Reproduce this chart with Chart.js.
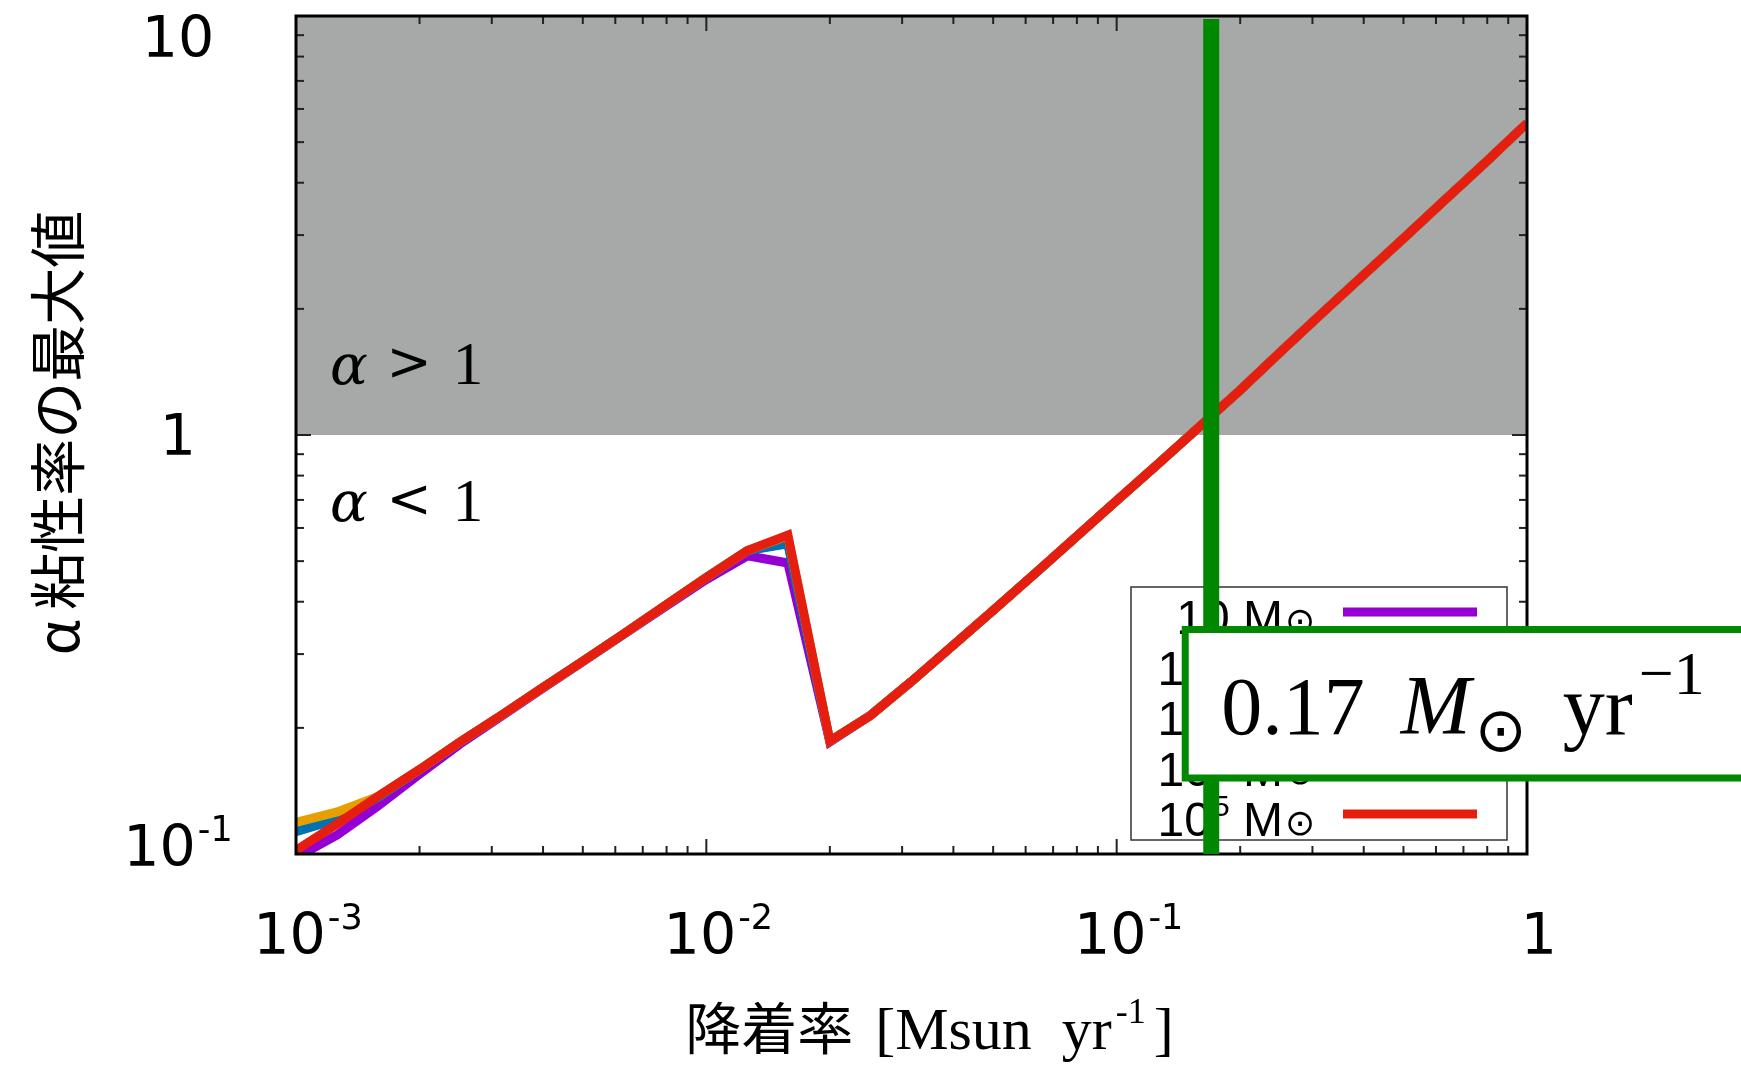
<!DOCTYPE html>
<html>
<head>
<meta charset="utf-8">
<script src="https://cdn.jsdelivr.net/npm/chart.js@4.4.0/dist/chart.umd.min.js"></script>
<style>
  html, body { margin: 0; padding: 0; background: #fff; }
  canvas { display: block; }
</style>
</head>
<body>
<canvas id="alphaChart" width="1741" height="1066"></canvas>
<script>
// accretion rate [Msun/yr], 10 samples per decade
const accretionRates = [0.001, 0.00126, 0.00158, 0.002, 0.00251, 0.00316, 0.00398, 0.00501, 0.00631, 0.00794,
    0.01, 0.0126, 0.0158, 0.02, 0.0251, 0.0316, 0.0398, 0.0501, 0.0631, 0.0794,
    0.1, 0.126, 0.158, 0.2, 0.251, 0.316, 0.398, 0.501, 0.631, 0.794, 1]

// maximum alpha viscosity for each stellar mass
const alphaMax10 = [0.098, 0.111, 0.130, 0.155, 0.183, 0.213, 0.248, 0.288, 0.335, 0.389,
    0.452, 0.515, 0.495, 0.185, 0.214, 0.258, 0.314, 0.382, 0.466, 0.570,
    0.697, 0.852, 1.04, 1.28, 1.58, 1.95, 2.40, 2.95, 3.64, 4.48, 5.55]
const alphaMax1e2 = [0.116, 0.123, 0.137, 0.159, 0.185, 0.214, 0.249, 0.289, 0.336, 0.392,
    0.457, 0.530, 0.553, 0.186, 0.214, 0.258, 0.314, 0.382, 0.466, 0.570,
    0.697, 0.852, 1.04, 1.28, 1.58, 1.95, 2.40, 2.95, 3.64, 4.48, 5.55]
const alphaMax1e3 = [0.113, 0.121, 0.136, 0.159, 0.185, 0.214, 0.249, 0.289, 0.336, 0.392,
    0.457, 0.530, 0.550, 0.186, 0.214, 0.258, 0.314, 0.382, 0.466, 0.570,
    0.697, 0.852, 1.04, 1.28, 1.58, 1.95, 2.40, 2.95, 3.64, 4.48, 5.55]
const alphaMax1e4 = [0.119, 0.126, 0.137, 0.159, 0.185, 0.214, 0.249, 0.289, 0.336, 0.392,
    0.457, 0.530, 0.575, 0.186, 0.214, 0.258, 0.314, 0.382, 0.466, 0.570,
    0.697, 0.852, 1.04, 1.28, 1.58, 1.95, 2.40, 2.95, 3.64, 4.48, 5.55]
const alphaMax1e5 = [0.102, 0.118, 0.137, 0.159, 0.185, 0.214, 0.249, 0.289, 0.336, 0.392,
    0.457, 0.530, 0.577, 0.186, 0.214, 0.258, 0.314, 0.382, 0.466, 0.570,
    0.697, 0.852, 1.04, 1.28, 1.58, 1.95, 2.40, 2.95, 3.64, 4.48, 5.55]

const massExponents = [1, 2, 3, 4, 5]
const seriesValues = [alphaMax10, alphaMax1e2, alphaMax1e3, alphaMax1e4, alphaMax1e5]
const seriesColors = ['#9400d3', '#009e73', '#0072b2', '#e69f00', '#e51e10']

const xTickValues = [0.001, 0.01, 0.1, 1]
const xTickLabels = [['10', '-3'], ['10', '-2'], ['10', '-1'], ['1', '']]
const yTickValues = [0.1, 1, 10]
const yTickLabels = [['10', '-1'], ['1', ''], ['10', '']]

const alphaLimit = 1
const boundaryRate = 0.17
const xTitle = ['降着率', '[Msun  yr', '-1', ']']
const yTitle = ['α', '粘性率の最大値']

function strokeLine(ctx, x1, y1, x2, y2) {
    ctx.beginPath();
    ctx.moveTo(x1, y1);
    ctx.lineTo(x2, y2);
    ctx.stroke();
}

function logTicks(min, max) {
    const out = [];
    for (let e = Math.floor(Math.log10(min)); e <= Math.ceil(Math.log10(max)); e++) {
        for (let m = 1; m <= 9; m++) {
            const v = m * Math.pow(10, e);
            if (v >= min * 0.999 && v <= max * 1.001) out.push({ v, major: m === 1 });
        }
    }
    return out;
}

// draws a glyph so that its ink is centred on (cx, cy)
function fillCentered(ctx, text, cx, cy) {
    const m = ctx.measureText(text);
    ctx.fillText(text, cx - (m.actualBoundingBoxRight - m.actualBoundingBoxLeft) / 2,
        cy + (m.actualBoundingBoxAscent - m.actualBoundingBoxDescent) / 2);
}

function drawPower(ctx, base, exp, cx, baseline, size) {
    const baseFont = `${size}px "DejaVu Sans"`;
    const supFont = `${Math.round(size * 0.62)}px "DejaVu Sans"`;
    ctx.font = baseFont;
    const wb = ctx.measureText(base).width;
    ctx.font = supFont;
    const we = exp ? ctx.measureText(exp).width + 2 : 0;
    const left = cx - (wb + we) / 2;
    ctx.font = baseFont;
    ctx.fillText(base, left, baseline);
    if (exp) {
        ctx.font = supFont;
        ctx.fillText(exp, left + wb + 2, baseline - size * 0.43);
    }
}

function drawFrame(ctx, area, x, y) {
    ctx.strokeStyle = '#222';
    ctx.lineWidth = 2;
    logTicks(x.min, x.max).forEach(t => {
        const px = x.getPixelForValue(t.v);
        const len = t.major ? 15 : 8;
        strokeLine(ctx, px, area.bottom, px, area.bottom - len);
        strokeLine(ctx, px, area.top, px, area.top + len);
    });
    logTicks(y.min, y.max).forEach(t => {
        const py = y.getPixelForValue(t.v);
        const len = t.major ? 15 : 8;
        strokeLine(ctx, area.left, py, area.left + len, py);
        strokeLine(ctx, area.right, py, area.right - len, py);
    });
    ctx.strokeStyle = '#000';
    ctx.lineWidth = 3;
    ctx.strokeRect(area.left, area.top, area.right - area.left, area.bottom - area.top);
}

function drawTickLabels(ctx, area, x, y) {
    ctx.fillStyle = '#000';
    ctx.textAlign = 'left';
    ctx.textBaseline = 'alphabetic';
    xTickValues.forEach((v, i) => {
        drawPower(ctx, xTickLabels[i][0], xTickLabels[i][1], x.getPixelForValue(v) + 12, area.bottom + 100, 57);
    });
    yTickValues.forEach((v, i) => {
        const cy = Math.min(Math.max(y.getPixelForValue(v), area.top + 21), area.bottom - 8);
        drawPower(ctx, yTickLabels[i][0], yTickLabels[i][1], area.left - 118, cy + 20, 57);
    });
}

function drawRegionLabel(ctx, relation, left, baseline) {
    ctx.fillStyle = '#000';
    ctx.textBaseline = 'alphabetic';
    ctx.textAlign = 'left';
    ctx.font = 'italic 56px "DejaVu Serif"';
    ctx.fillText('α', left, baseline);
    ctx.font = '54px "DejaVu Serif"';
    fillCentered(ctx, relation, left + 79, baseline - 21);
    ctx.font = '61px "Liberation Serif"';
    ctx.textAlign = 'center';
    ctx.fillText('1', left + 138, baseline);
    ctx.textAlign = 'left';
}

function drawAxisTitles(ctx, area) {
    ctx.fillStyle = '#000';
    // y title, rotated
    ctx.save();
    ctx.translate(57, (area.top + area.bottom) / 2 - 2);
    ctx.rotate(-Math.PI / 2);
    ctx.font = '57px "Noto Sans CJK JP"';
    ctx.textBaseline = 'middle';
    ctx.textAlign = 'left';
    const wa = ctx.measureText(yTitle[0]).width;
    const wt = ctx.measureText(yTitle[1]).width;
    const gap = 10;
    const start = -(wa + gap + wt) / 2;
    ctx.fillText(yTitle[0], start, 0);
    ctx.fillText(yTitle[1], start + wa + gap, 0);
    ctx.restore();

    // x title: CJK part, serif unit with superscript
    ctx.textAlign = 'left';
    ctx.textBaseline = 'alphabetic';
    const baseline = area.bottom + 195;
    const cjkFont = '56px "Noto Sans CJK JP"';
    const serifFont = '60px "Liberation Serif"';
    const supFont = '36px "Liberation Serif"';
    ctx.font = cjkFont;
    const w0 = ctx.measureText(xTitle[0]).width;
    ctx.font = serifFont;
    const w1 = ctx.measureText(xTitle[1]).width;
    const w3 = ctx.measureText(xTitle[3]).width;
    ctx.font = supFont;
    const w2 = ctx.measureText(xTitle[2]).width;
    const gap2 = 22;
    let px = (area.left + area.right) / 2 + 18 - (w0 + gap2 + w1 + 4 + w2 + 8 + w3) / 2;
    ctx.font = cjkFont;
    ctx.fillText(xTitle[0], px, baseline);
    px += w0 + gap2;
    ctx.font = serifFont;
    ctx.fillText(xTitle[1], px, baseline);
    px += w1 + 4;
    ctx.font = supFont;
    ctx.fillText(xTitle[2], px, baseline - 26);
    px += w2 + 8;
    ctx.font = serifFont;
    ctx.fillText(xTitle[3], px, baseline);
}

function drawMassLabel(ctx, exp, right, baseline) {
    const mainFont = '48px "Liberation Sans"';
    const supFont = '30px "Liberation Sans"';
    const sunFont = '36px "DejaVu Sans"';
    const supText = exp > 1 ? String(exp) : '';
    ctx.font = mainFont;
    const wBase = ctx.measureText('10').width;
    const wM = ctx.measureText(' M').width;
    ctx.font = supFont;
    const wSup = supText ? ctx.measureText(supText).width + 2 : 0;
    ctx.font = sunFont;
    const sun = ctx.measureText('⊙');
    const wSun = sun.actualBoundingBoxLeft + sun.actualBoundingBoxRight;
    let px = right - (wBase + wSup + wM + 5 + wSun);
    ctx.textAlign = 'left';
    ctx.font = mainFont;
    ctx.fillText('10', px, baseline);
    px += wBase;
    if (supText) {
        ctx.font = supFont;
        ctx.fillText(supText, px + 2, baseline - 20);
        px += wSup;
    }
    ctx.font = mainFont;
    ctx.fillText(' M', px, baseline);
    px += wM + 5;
    ctx.font = sunFont;
    fillCentered(ctx, '⊙', px + wSun / 2, baseline - 13);
}

function drawLegend(ctx, area, chart) {
    const right = area.right - 20;
    const bottom = area.bottom - 14;
    const left = right - 376;
    const top = bottom - 253;
    ctx.strokeStyle = '#333';
    ctx.lineWidth = 1.5;
    ctx.strokeRect(left, top, right - left, bottom - top);
    ctx.fillStyle = '#000';
    ctx.textBaseline = 'alphabetic';
    chart.data.datasets.forEach((ds, i) => {
        const rowY = top + 25 + i * 50.5;
        ctx.strokeStyle = ds.borderColor;
        ctx.lineWidth = 9;
        strokeLine(ctx, left + 212, rowY, left + 346, rowY);
        drawMassLabel(ctx, massExponents[i], left + 181, rowY + 22);
    });
}

function drawBoundary(ctx, area, x, chart) {
    const lineX = x.getPixelForValue(boundaryRate);
    ctx.strokeStyle = '#008800';
    ctx.lineWidth = 16;
    strokeLine(ctx, lineX, area.top + 3, lineX, area.bottom);

    const bx = lineX - 26;
    const by = area.bottom - 224.5;
    const bh = 148.5;
    ctx.fillStyle = '#fff';
    ctx.fillRect(bx, by, chart.width - bx + 20, bh);
    ctx.lineWidth = 7;
    ctx.strokeRect(bx, by, chart.width - bx + 20, bh);

    const baseline = by + 104;
    let px = bx + 36;
    ctx.fillStyle = '#000';
    ctx.textAlign = 'left';
    ctx.textBaseline = 'alphabetic';
    ctx.font = '82px "Liberation Serif"';
    const value = String(boundaryRate);
    ctx.fillText(value, px, baseline);
    px += ctx.measureText(value).width + 36;
    ctx.font = 'italic 84px "Liberation Serif"';
    ctx.fillText('M', px, baseline);
    px += ctx.measureText('M').width;
    ctx.font = '62px "DejaVu Sans"';
    fillCentered(ctx, '⊙', px + 30, baseline - 2);
    px += 92;
    ctx.font = '84px "Liberation Serif"';
    ctx.fillText('yr', px, baseline);
    px += ctx.measureText('yr').width + 6;
    ctx.font = '62px "Liberation Serif"';
    ctx.fillText('−1', px, baseline - 40);
}

const overlayPlugin = {
    id: 'overlay',
    beforeDatasetsDraw(chart) {
        const { ctx, chartArea: area, scales: { y } } = chart;
        const yLimit = y.getPixelForValue(alphaLimit);
        ctx.save();
        ctx.fillStyle = '#a6a9a7';
        ctx.fillRect(area.left, area.top, area.right - area.left, yLimit - area.top);
        ctx.restore();
    },
    afterDatasetsDraw(chart) {
        const { ctx, chartArea: area, scales: { x, y } } = chart;
        ctx.save();
        drawFrame(ctx, area, x, y);
        drawTickLabels(ctx, area, x, y);
        const yLimit = y.getPixelForValue(alphaLimit);
        drawRegionLabel(ctx, '>', area.left + 34, yLimit - 51);
        drawRegionLabel(ctx, '<', area.left + 34, yLimit + 86);
        drawAxisTitles(ctx, area);
        drawLegend(ctx, area, chart);
        drawBoundary(ctx, area, x, chart);
        ctx.restore();
    }
}

new Chart(document.getElementById('alphaChart'), {
    type: 'line',
    data: {
        datasets: seriesValues.map((values, i) => ({
            label: `10^${massExponents[i]} Msun`,
            data: accretionRates.map((rate, j) => ({ x: rate, y: values[j] })),
            borderColor: seriesColors[i],
            borderWidth: 9,
            borderJoinStyle: 'miter',
            pointRadius: 0,
            tension: 0,
            fill: false,
            order: seriesValues.length - i // last mass drawn on top
        }))
    },
    options: {
        responsive: false,
        animation: false,
        devicePixelRatio: 1,
        layout: { padding: { top: 16, right: 214, left: 0, bottom: 0 } },
        scales: {
            x: {
                type: 'logarithmic',
                min: 0.001,
                max: 1,
                grid: { display: false },
                border: { display: false },
                ticks: { display: false },
                afterFit: (scale) => { scale.height = 212 }
            },
            y: {
                type: 'logarithmic',
                min: 0.1,
                max: 10,
                grid: { display: false },
                border: { display: false },
                ticks: { display: false },
                afterFit: (scale) => { scale.width = 296 }
            }
        },
        plugins: {
            legend: { display: false },
            tooltip: { enabled: false }
        }
    },
    plugins: [overlayPlugin]
});
</script>
</body>
</html>
